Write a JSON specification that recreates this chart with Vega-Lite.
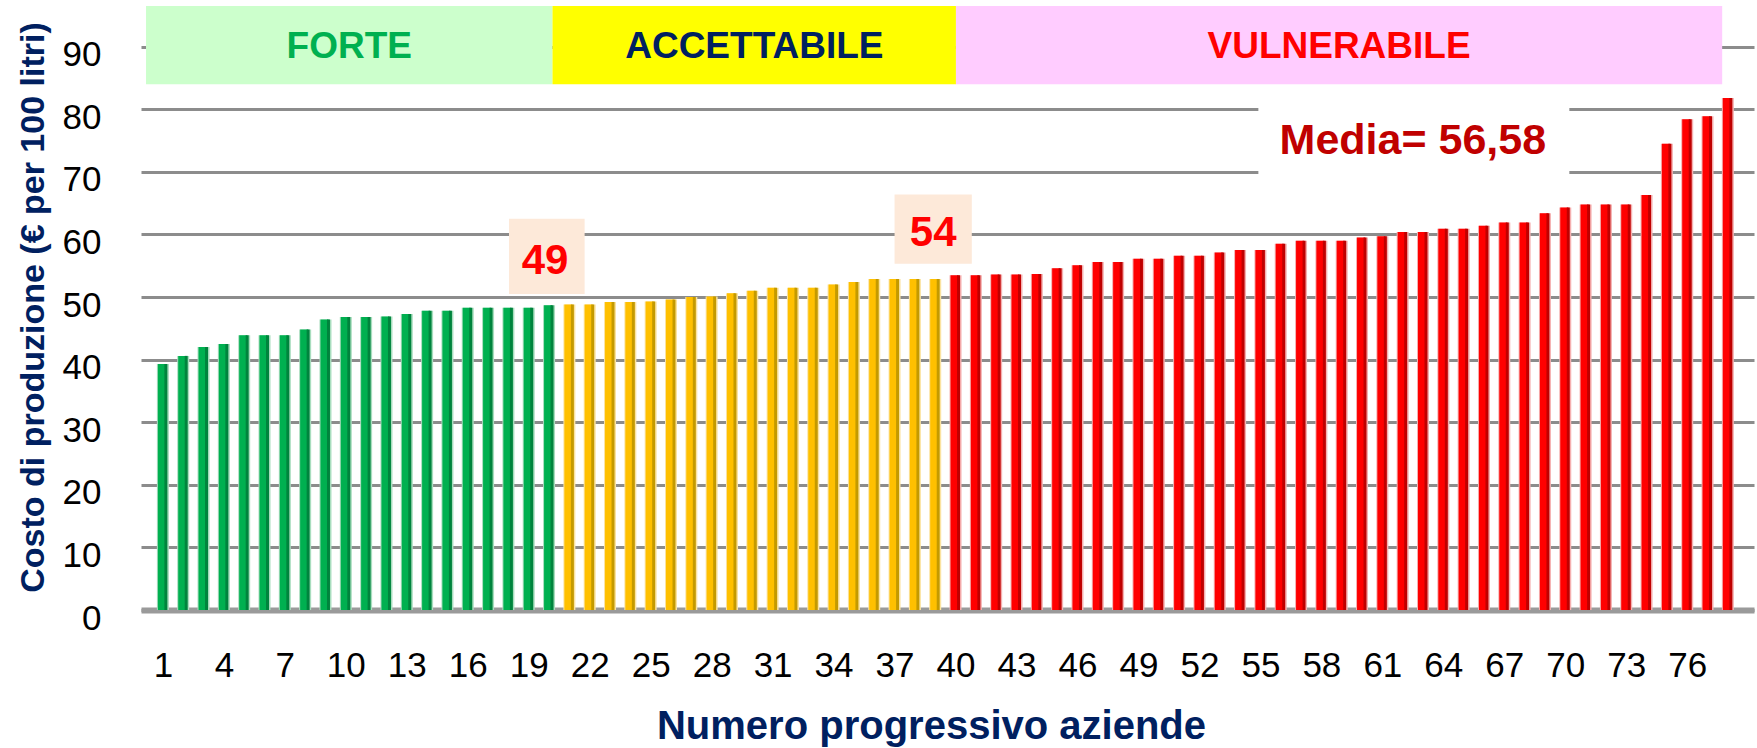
{
  "$schema": "https://vega.github.io/schema/vega-lite/v6.json",
  "width": 1613,
  "height": 604,
  "autosize": {"type": "none"},
  "padding": {"left": 141, "top": 6, "right": 3, "bottom": 138},
  "background": "white",
  "config": {"view": {"stroke": null}},
  "datasets": {
    "bars": [
      {"azienda": 1, "costo": 39.3, "fascia": "forte"},
      {"azienda": 2, "costo": 40.6, "fascia": "forte"},
      {"azienda": 3, "costo": 42.0, "fascia": "forte"},
      {"azienda": 4, "costo": 42.5, "fascia": "forte"},
      {"azienda": 5, "costo": 43.9, "fascia": "forte"},
      {"azienda": 6, "costo": 43.9, "fascia": "forte"},
      {"azienda": 7, "costo": 43.9, "fascia": "forte"},
      {"azienda": 8, "costo": 44.8, "fascia": "forte"},
      {"azienda": 9, "costo": 46.4, "fascia": "forte"},
      {"azienda": 10, "costo": 46.8, "fascia": "forte"},
      {"azienda": 11, "costo": 46.8, "fascia": "forte"},
      {"azienda": 12, "costo": 46.9, "fascia": "forte"},
      {"azienda": 13, "costo": 47.3, "fascia": "forte"},
      {"azienda": 14, "costo": 47.8, "fascia": "forte"},
      {"azienda": 15, "costo": 47.8, "fascia": "forte"},
      {"azienda": 16, "costo": 48.3, "fascia": "forte"},
      {"azienda": 17, "costo": 48.3, "fascia": "forte"},
      {"azienda": 18, "costo": 48.3, "fascia": "forte"},
      {"azienda": 19, "costo": 48.3, "fascia": "forte"},
      {"azienda": 20, "costo": 48.7, "fascia": "forte"},
      {"azienda": 21, "costo": 48.8, "fascia": "accettabile"},
      {"azienda": 22, "costo": 48.8, "fascia": "accettabile"},
      {"azienda": 23, "costo": 49.2, "fascia": "accettabile"},
      {"azienda": 24, "costo": 49.2, "fascia": "accettabile"},
      {"azienda": 25, "costo": 49.3, "fascia": "accettabile"},
      {"azienda": 26, "costo": 49.6, "fascia": "accettabile"},
      {"azienda": 27, "costo": 50.0, "fascia": "accettabile"},
      {"azienda": 28, "costo": 50.1, "fascia": "accettabile"},
      {"azienda": 29, "costo": 50.6, "fascia": "accettabile"},
      {"azienda": 30, "costo": 51.0, "fascia": "accettabile"},
      {"azienda": 31, "costo": 51.5, "fascia": "accettabile"},
      {"azienda": 32, "costo": 51.5, "fascia": "accettabile"},
      {"azienda": 33, "costo": 51.5, "fascia": "accettabile"},
      {"azienda": 34, "costo": 52.0, "fascia": "accettabile"},
      {"azienda": 35, "costo": 52.4, "fascia": "accettabile"},
      {"azienda": 36, "costo": 52.9, "fascia": "accettabile"},
      {"azienda": 37, "costo": 52.9, "fascia": "accettabile"},
      {"azienda": 38, "costo": 52.9, "fascia": "accettabile"},
      {"azienda": 39, "costo": 52.9, "fascia": "accettabile"},
      {"azienda": 40, "costo": 53.5, "fascia": "vulnerabile"},
      {"azienda": 41, "costo": 53.5, "fascia": "vulnerabile"},
      {"azienda": 42, "costo": 53.6, "fascia": "vulnerabile"},
      {"azienda": 43, "costo": 53.6, "fascia": "vulnerabile"},
      {"azienda": 44, "costo": 53.7, "fascia": "vulnerabile"},
      {"azienda": 45, "costo": 54.6, "fascia": "vulnerabile"},
      {"azienda": 46, "costo": 55.1, "fascia": "vulnerabile"},
      {"azienda": 47, "costo": 55.6, "fascia": "vulnerabile"},
      {"azienda": 48, "costo": 55.6, "fascia": "vulnerabile"},
      {"azienda": 49, "costo": 56.1, "fascia": "vulnerabile"},
      {"azienda": 50, "costo": 56.1, "fascia": "vulnerabile"},
      {"azienda": 51, "costo": 56.6, "fascia": "vulnerabile"},
      {"azienda": 52, "costo": 56.6, "fascia": "vulnerabile"},
      {"azienda": 53, "costo": 57.1, "fascia": "vulnerabile"},
      {"azienda": 54, "costo": 57.5, "fascia": "vulnerabile"},
      {"azienda": 55, "costo": 57.5, "fascia": "vulnerabile"},
      {"azienda": 56, "costo": 58.5, "fascia": "vulnerabile"},
      {"azienda": 57, "costo": 59.0, "fascia": "vulnerabile"},
      {"azienda": 58, "costo": 59.0, "fascia": "vulnerabile"},
      {"azienda": 59, "costo": 59.0, "fascia": "vulnerabile"},
      {"azienda": 60, "costo": 59.5, "fascia": "vulnerabile"},
      {"azienda": 61, "costo": 59.7, "fascia": "vulnerabile"},
      {"azienda": 62, "costo": 60.4, "fascia": "vulnerabile"},
      {"azienda": 63, "costo": 60.4, "fascia": "vulnerabile"},
      {"azienda": 64, "costo": 60.9, "fascia": "vulnerabile"},
      {"azienda": 65, "costo": 60.9, "fascia": "vulnerabile"},
      {"azienda": 66, "costo": 61.4, "fascia": "vulnerabile"},
      {"azienda": 67, "costo": 61.9, "fascia": "vulnerabile"},
      {"azienda": 68, "costo": 61.9, "fascia": "vulnerabile"},
      {"azienda": 69, "costo": 63.4, "fascia": "vulnerabile"},
      {"azienda": 70, "costo": 64.3, "fascia": "vulnerabile"},
      {"azienda": 71, "costo": 64.8, "fascia": "vulnerabile"},
      {"azienda": 72, "costo": 64.8, "fascia": "vulnerabile"},
      {"azienda": 73, "costo": 64.8, "fascia": "vulnerabile"},
      {"azienda": 74, "costo": 66.3, "fascia": "vulnerabile"},
      {"azienda": 75, "costo": 74.5, "fascia": "vulnerabile"},
      {"azienda": 76, "costo": 78.4, "fascia": "vulnerabile"},
      {"azienda": 77, "costo": 78.9, "fascia": "vulnerabile"},
      {"azienda": 78, "costo": 81.8, "fascia": "vulnerabile"}
    ],
    "bands": [
      {"da": 0.17, "a": 20.17, "basso": 84, "alto": 96.5, "fascia": "forte", "etichetta": "FORTE", "centro": 10.17, "ylab": 90},
      {"da": 20.17, "a": 40.02, "basso": 84, "alto": 96.5, "fascia": "accettabile", "etichetta": "ACCETTABILE", "centro": 30.1, "ylab": 90},
      {"da": 40.02, "a": 77.72, "basso": 84, "alto": 96.5, "fascia": "vulnerabile", "etichetta": "VULNERABILE", "centro": 58.87, "ylab": 90}
    ]
  },
  "resolve": {"scale": {"color": "independent"}},
  "layer": [
    {
      "data": {"name": "bands"},
      "mark": {"type": "rect"},
      "encoding": {
        "x": {"field": "da", "type": "quantitative", "scale": {"domain": [0.169, 79.04], "nice": false, "zero": false},
          "axis": {"title": "Numero progressivo aziende", "values": [1, 4, 7, 10, 13, 16, 19, 22, 25, 28, 31, 34, 37, 40, 43, 46, 49, 52, 55, 58, 61, 64, 67, 70, 73, 76],
            "grid": false, "ticks": false, "tickSize": 0, "domain": true, "domainColor": "#9a9a9a", "domainWidth": 6,
            "labelFont": "Liberation Sans", "labelFontSize": 35, "labelColor": "#000000", "labelPadding": 38, "labelFlush": false, "labelOverlap": false,
            "titleFont": "Liberation Sans", "titleFontSize": 40, "titleFontWeight": "bold", "titleColor": "#002060",
            "titleX": 790, "titleY": 116, "titleAlign": "center", "titleBaseline": "middle", "titleAnchor": null}},
        "x2": {"field": "a"},
        "y": {"field": "basso", "type": "quantitative", "scale": {"domain": [0, 96.5], "nice": false, "zero": true},
          "axis": {"title": "Costo di produzione (€ per 100 litri)", "values": [0, 10, 20, 30, 40, 50, 60, 70, 80, 90],
            "grid": true, "gridColor": "#8c8c8c", "gridWidth": 3, "domain": false, "ticks": false, "tickSize": 0,
            "labelFont": "Liberation Sans", "labelFontSize": 35, "labelColor": "#000000", "labelPadding": 40, "labelOffset": 8,
            "titleFont": "Liberation Sans", "titleFontSize": 34, "titleFontWeight": "bold", "titleColor": "#002060",
            "titleAngle": -90, "titleX": -108, "titleY": 301, "titleAlign": "center", "titleBaseline": "middle", "titleAnchor": null}},
        "y2": {"field": "alto"},
        "color": {"field": "fascia", "type": "nominal", "legend": null,
          "scale": {"domain": ["forte", "accettabile", "vulnerabile"], "range": ["#CCFFCC", "#FFFF00", "#FFCCFF"]}}
      }
    },
    {
      "data": {"name": "bands"},
      "mark": {"type": "text", "font": "Liberation Sans", "fontSize": 37, "fontWeight": "bold", "align": "center", "baseline": "middle"},
      "encoding": {
        "x": {"field": "centro", "type": "quantitative", "scale": {"domain": [0.169, 79.04], "nice": false, "zero": false}},
        "y": {"field": "ylab", "type": "quantitative", "scale": {"domain": [0, 96.5], "nice": false, "zero": true}},
        "text": {"field": "etichetta"},
        "color": {"field": "fascia", "type": "nominal", "legend": null,
          "scale": {"domain": ["forte", "accettabile", "vulnerabile"], "range": ["#00B050", "#002060", "#FF0000"]}}
      }
    },
    {
      "data": {"values": [
        {"da": 18.03, "a": 21.75, "basso": 50.5, "alto": 62.5},
        {"da": 37.0, "a": 40.8, "basso": 55.3, "alto": 66.4}
      ]},
      "mark": {"type": "rect", "color": "#FDE9D9"},
      "encoding": {
        "x": {"field": "da", "type": "quantitative", "scale": {"domain": [0.169, 79.04], "nice": false, "zero": false}},
        "x2": {"field": "a"},
        "y": {"field": "basso", "type": "quantitative", "scale": {"domain": [0, 96.5], "nice": false, "zero": true}},
        "y2": {"field": "alto"}
      }
    },
    {
      "data": {"values": [
        {"da": 54.9, "a": 70.2, "basso": 67.5, "alto": 82.5}
      ]},
      "mark": {"type": "rect", "color": "#FFFFFF"},
      "encoding": {
        "x": {"field": "da", "type": "quantitative", "scale": {"domain": [0.169, 79.04], "nice": false, "zero": false}},
        "x2": {"field": "a"},
        "y": {"field": "basso", "type": "quantitative", "scale": {"domain": [0, 96.5], "nice": false, "zero": true}},
        "y2": {"field": "alto"}
      }
    },
    {
      "data": {"name": "bars"},
      "mark": {"type": "bar", "size": 12},
      "encoding": {
        "x": {"field": "azienda", "type": "quantitative", "scale": {"domain": [0.169, 79.04], "nice": false, "zero": false}},
        "y": {"field": "costo", "type": "quantitative", "scale": {"domain": [0, 96.5], "nice": false, "zero": true}},
        "color": {"field": "fascia", "type": "nominal", "legend": null,
          "scale": {"domain": ["forte", "accettabile", "vulnerabile"], "range": ["#A8DDBE", "#FBE3A0", "#F5B0B0"]}}
      }
    },
    {
      "data": {"name": "bars"},
      "mark": {"type": "bar", "size": 8, "xOffset": -1},
      "encoding": {
        "x": {"field": "azienda", "type": "quantitative", "scale": {"domain": [0.169, 79.04], "nice": false, "zero": false}},
        "y": {"field": "costo", "type": "quantitative", "scale": {"domain": [0, 96.5], "nice": false, "zero": true}},
        "color": {"field": "fascia", "type": "nominal", "legend": null,
          "scale": {"domain": ["forte", "accettabile", "vulnerabile"], "range": ["#00B050", "#FFC000", "#FF0000"]}}
      }
    },
    {
      "data": {"name": "bars"},
      "mark": {"type": "bar", "size": 3, "xOffset": 3},
      "encoding": {
        "x": {"field": "azienda", "type": "quantitative", "scale": {"domain": [0.169, 79.04], "nice": false, "zero": false}},
        "y": {"field": "costo", "type": "quantitative", "scale": {"domain": [0, 96.5], "nice": false, "zero": true}},
        "color": {"field": "fascia", "type": "nominal", "legend": null,
          "scale": {"domain": ["forte", "accettabile", "vulnerabile"], "range": ["#00843D", "#C49A00", "#C00000"]}}
      }
    },
    {
      "data": {"values": [
        {"px": 19.8, "py": 55.8, "testo": "49"},
        {"px": 38.9, "py": 60.3, "testo": "54"}
      ]},
      "mark": {"type": "text", "font": "Liberation Sans", "fontSize": 42, "fontWeight": "bold", "color": "#FF0000", "align": "center", "baseline": "middle"},
      "encoding": {
        "x": {"field": "px", "type": "quantitative", "scale": {"domain": [0.169, 79.04], "nice": false, "zero": false}},
        "y": {"field": "py", "type": "quantitative", "scale": {"domain": [0, 96.5], "nice": false, "zero": true}},
        "text": {"field": "testo"}
      }
    },
    {
      "data": {"values": [
        {"px": 62.5, "py": 75.0, "testo": "Media= 56,58"}
      ]},
      "mark": {"type": "text", "font": "Liberation Sans", "fontSize": 43, "fontWeight": "bold", "color": "#C00000", "align": "center", "baseline": "middle"},
      "encoding": {
        "x": {"field": "px", "type": "quantitative", "scale": {"domain": [0.169, 79.04], "nice": false, "zero": false}},
        "y": {"field": "py", "type": "quantitative", "scale": {"domain": [0, 96.5], "nice": false, "zero": true}},
        "text": {"field": "testo"}
      }
    }
  ]
}
